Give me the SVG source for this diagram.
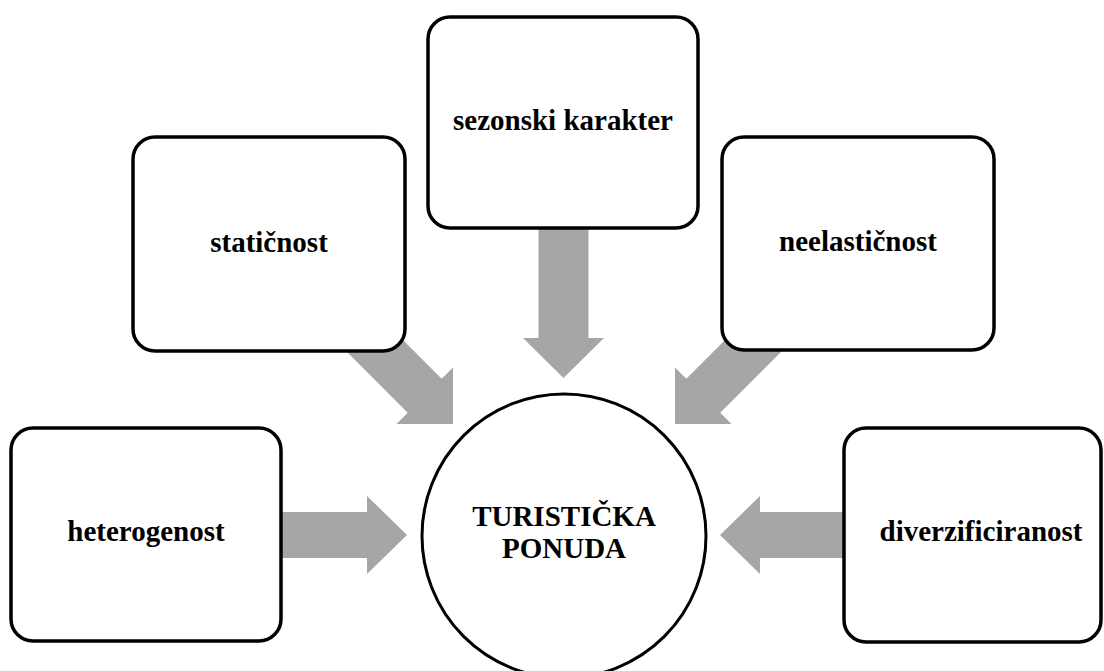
<svg xmlns="http://www.w3.org/2000/svg" width="1104" height="671" viewBox="0 0 1104 671">
<style>
.arrow{fill:#a6a6a6;stroke:none}
.box{fill:#ffffff;stroke:#000000;stroke-width:3.5}
.circ{fill:#ffffff;stroke:#000000;stroke-width:3}
.lbl{font-family:"Liberation Serif","Times New Roman",serif;font-weight:bold;font-size:29px;fill:#000000;text-anchor:middle}
</style>
<rect width="1104" height="671" fill="#ffffff"/>
<g id="connectors">
<polygon class="arrow" transform="translate(407,535)" points="-130,-23 -40,-23 -40,-39 0,0 -40,39 -40,23 -130,23"/>
<polygon class="arrow" transform="translate(720,535) rotate(180)" points="-130,-23 -40,-23 -40,-39 0,0 -40,39 -40,23 -130,23"/>
<polygon class="arrow" transform="translate(563.5,378) rotate(90)" points="-155,-25 -40,-25 -40,-40.5 0,0 -40,40.5 -40,25 -155,25"/>
<polygon class="arrow" transform="translate(453,424) rotate(45)" points="-128,-24 -40,-24 -40,-40 0,0 -40,40 -40,24 -128,24"/>
<polygon class="arrow" transform="translate(675,424) rotate(135)" points="-128,-24 -40,-24 -40,-40 0,0 -40,40 -40,24 -128,24"/>
</g>
<g id="node-staticnost">
<rect class="box" x="133" y="137" width="272" height="214" rx="22" ry="22"/>
<text class="lbl" x="269" y="252">statičnost</text>
</g>
<g id="node-sezonski">
<rect class="box" x="428" y="17" width="270" height="211" rx="22" ry="22"/>
<text class="lbl" x="563" y="130">sezonski karakter</text>
</g>
<g id="node-neelasticnost">
<rect class="box" x="722" y="137" width="272" height="213" rx="22" ry="22"/>
<text class="lbl" x="858" y="251">neelastičnost</text>
</g>
<g id="node-heterogenost">
<rect class="box" x="11" y="428" width="270" height="213" rx="22" ry="22"/>
<text class="lbl" x="146" y="541">heterogenost</text>
</g>
<g id="node-diverzificiranost">
<rect class="box" x="844" y="428" width="257" height="214" rx="22" ry="22"/>
<text class="lbl" x="981" y="541">diverzificiranost</text>
</g>
<g id="node-center">
<circle class="circ" cx="564" cy="536" r="142"/>
<text class="lbl" x="564" y="526">TURISTIČKA</text>
<text class="lbl" x="564" y="558">PONUDA</text>
</g>
</svg>
